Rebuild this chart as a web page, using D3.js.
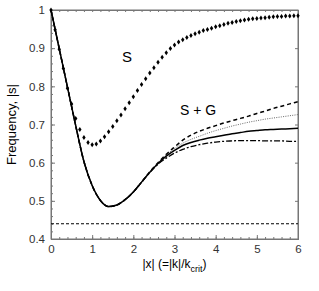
<!DOCTYPE html>
<html>
<head>
<meta charset="utf-8">
<script src="https://cdn.jsdelivr.net/npm/d3@7"></script>
<style>
  body { margin: 0; background: #fff; }
  svg { display: block; font-family: "Liberation Sans", Arial, sans-serif; }
</style>
</head>
<body>
<svg width="319" height="291"></svg>
<script>
// S : diamonds, every 0.1 from 0 to 6
var sX = d3.range(0, 61).map(function(i) { return i / 10; });
var sY = [1.000, 0.948, 0.897, 0.847, 0.795, 0.754, 0.716, 0.687, 0.666, 0.653,
          0.647, 0.649, 0.657, 0.668, 0.681, 0.695, 0.710, 0.725, 0.741, 0.757,
          0.773, 0.789, 0.805, 0.820, 0.835, 0.849, 0.863, 0.876, 0.888, 0.899,
          0.908, 0.916, 0.922, 0.928, 0.933, 0.938, 0.942, 0.946, 0.949, 0.952,
          0.956, 0.959, 0.962, 0.965, 0.967, 0.970, 0.972, 0.974, 0.976, 0.977,
          0.978, 0.979, 0.980, 0.981, 0.982, 0.983, 0.983, 0.984, 0.984, 0.985,
          0.985];

// S + G curves, every 0.2 from 0 to 6
var gX = d3.range(0, 31).map(function(i) { return i / 5; });
var gSolid   = [1.000, 0.899, 0.798, 0.697, 0.603, 0.540, 0.501, 0.485, 0.489, 0.503,
                0.523, 0.549, 0.575, 0.598, 0.617, 0.632, 0.645, 0.653, 0.659, 0.664,
                0.668, 0.672, 0.676, 0.679, 0.682, 0.684, 0.686, 0.687, 0.688, 0.689,
                0.690];
var gDashed  = [1.000, 0.899, 0.798, 0.697, 0.603, 0.540, 0.501, 0.485, 0.489, 0.503,
                0.523, 0.549, 0.576, 0.600, 0.622, 0.641, 0.659, 0.672, 0.682, 0.690,
                0.697, 0.704, 0.710, 0.716, 0.722, 0.729, 0.735, 0.742, 0.748, 0.754,
                0.760];
var gDotted  = [1.000, 0.899, 0.798, 0.697, 0.603, 0.540, 0.501, 0.485, 0.489, 0.503,
                0.523, 0.549, 0.575, 0.599, 0.620, 0.637, 0.651, 0.661, 0.669, 0.677,
                0.684, 0.690, 0.696, 0.701, 0.706, 0.710, 0.714, 0.717, 0.720, 0.723,
                0.726];
var gDashDot = [1.000, 0.899, 0.798, 0.697, 0.603, 0.540, 0.501, 0.485, 0.489, 0.503,
                0.523, 0.549, 0.574, 0.596, 0.612, 0.625, 0.635, 0.642, 0.647, 0.651,
                0.654, 0.656, 0.657, 0.658, 0.658, 0.658, 0.657, 0.657, 0.657, 0.656,
                0.656];

var floorLevel = 0.44;

var xTicks = [0, 1, 2, 3, 4, 5, 6];
var yTicks = [0.4, 0.5, 0.6, 0.7, 0.8, 0.9, 1];

var svg = d3.select("svg");
var pLeft = 51, pRight = 298, pTop = 10, pBottom = 239;

var x = d3.scaleLinear().domain([0, 6]).range([pLeft, pRight]);
var y = d3.scaleLinear().domain([0.4, 1]).range([pBottom, pTop]);

var axisColor = "#777";

// minor ticks, inward
function minor(axis, vals, size) {
  return axis.tickValues(vals).tickSize(-size).tickFormat("");
}
var xMinor = d3.range(0, 31).map(function(i) { return i / 5; });
var yMinor = d3.range(0, 31).map(function(i) { return 0.4 + i * 0.02; });

svg.append("g").attr("transform", "translate(0," + pBottom + ")")
  .call(minor(d3.axisBottom(x), xMinor, 2));
svg.append("g").attr("transform", "translate(0," + pTop + ")")
  .call(minor(d3.axisTop(x), xMinor, 2));
svg.append("g").attr("transform", "translate(" + pLeft + ",0)")
  .call(minor(d3.axisLeft(y), yMinor, 2));
svg.append("g").attr("transform", "translate(" + pRight + ",0)")
  .call(d3.axisRight(y).tickValues(yTicks).tickSize(-3).tickFormat(""));

// labelled axes
svg.append("g").attr("class", "xaxis").attr("transform", "translate(0," + pBottom + ")")
  .call(d3.axisBottom(x).tickValues(xTicks).tickSize(-4).tickPadding(6)
    .tickFormat(d3.format("d")));
svg.append("g").attr("class", "yaxis").attr("transform", "translate(" + pLeft + ",0)")
  .call(d3.axisLeft(y).tickValues(yTicks).tickSize(-4).tickPadding(6)
    .tickFormat(function(d) { return d === 1 ? "1" : d3.format(".1f")(d); }));

svg.selectAll(".domain").attr("stroke", axisColor);
svg.selectAll(".tick line").attr("stroke", axisColor);
svg.selectAll(".tick text").attr("fill", "#333").attr("font-size", 11.5)
  .attr("font-family", "'Liberation Sans Narrow', 'Liberation Sans', Arial, sans-serif");

// frame
svg.append("rect")
  .attr("x", pLeft).attr("y", pTop)
  .attr("width", pRight - pLeft).attr("height", pBottom - pTop)
  .attr("fill", "none").attr("stroke", axisColor);

var line = d3.line()
  .x(function(d) { return x(d[0]); })
  .y(function(d) { return y(d[1]); })
  .curve(d3.curveMonotoneX);

function pairs(ys) { return gX.map(function(v, i) { return [v, ys[i]]; }); }

svg.append("path").datum([[0, floorLevel], [6, floorLevel]])
  .attr("d", line).attr("fill", "none").attr("stroke", "#000")
  .attr("stroke-width", 1.2).attr("stroke-dasharray", "3,2");

svg.append("path").datum(pairs(gDotted))
  .attr("d", line).attr("fill", "none").attr("stroke", "#666")
  .attr("stroke-width", 1).attr("stroke-dasharray", "1,1.3");
svg.append("path").datum(pairs(gDashDot))
  .attr("d", line).attr("fill", "none").attr("stroke", "#000")
  .attr("stroke-width", 1.3).attr("stroke-dasharray", "6,2,2,2");
svg.append("path").datum(pairs(gDashed))
  .attr("d", line).attr("fill", "none").attr("stroke", "#000")
  .attr("stroke-width", 1.5).attr("stroke-dasharray", "4,3");
svg.append("path").datum(pairs(gSolid))
  .attr("d", line).attr("fill", "none").attr("stroke", "#000")
  .attr("stroke-width", 1.5);

// S diamonds
var diamond = d3.symbol().type(d3.symbolDiamond).size(10);
svg.append("g").selectAll("path")
  .data(sX.map(function(v, i) { return [v, sY[i]]; }))
  .enter().append("path")
    .attr("d", diamond)
    .attr("transform", function(d) { return "translate(" + x(d[0]) + "," + y(d[1]) + ") scale(1,0.85)"; })
    .attr("fill", "#000");

// curve labels
svg.append("text").attr("x", 127).attr("y", 62).attr("text-anchor", "middle")
  .attr("font-size", 15).text("S");
svg.append("text").attr("x", 198).attr("y", 115).attr("text-anchor", "middle")
  .attr("font-size", 14).text("S + G");

// axis titles
svg.append("text")
  .attr("transform", "translate(16," + ((pTop + pBottom) / 2) + ") rotate(-90)")
  .attr("text-anchor", "middle").attr("font-size", 13)
  .text("Frequency, |s|");

var xt = svg.append("text").attr("x", (pLeft + pRight) / 2).attr("y", 268)
  .attr("text-anchor", "middle").attr("font-size", 12);
xt.append("tspan").text("|x| (=|k|/k");
xt.append("tspan").attr("dy", 4).attr("font-size", 9).text("crit");
xt.append("tspan").attr("dy", -4).text(")");
</script>
</body>
</html>
